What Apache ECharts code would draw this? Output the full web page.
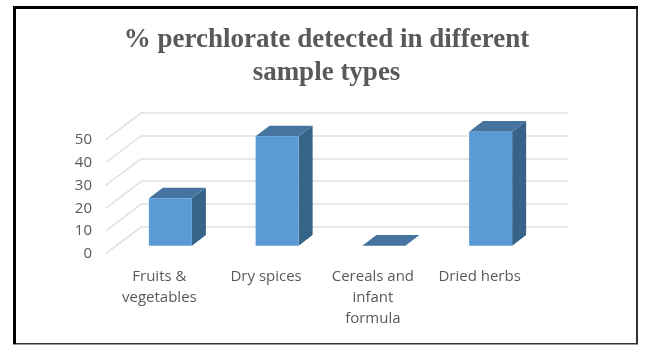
<!DOCTYPE html>
<html>
<head>
<meta charset="utf-8">
<style>
  html, body { margin: 0; padding: 0; background: #fff; }
  #chart { width: 650px; height: 358px; }
</style>
<script src="https://cdn.jsdelivr.net/npm/echarts@6/dist/echarts.min.js"></script>
</head>
<body>
<div id="chart"></div>
<script>
var categories = ['Fruits &\nvegetables', 'Dry spices', 'Cereals and\ninfant\nformula', 'Dried herbs']
var values = [20.8, 48, 0, 50]
var gridTicks = [0, 10, 20, 30, 40, 50]

// the fake 3d: how far the wall, and the bars, sit from the back plane
var wallDx = -36, wallDy = 27
var barDx = -24.7, barDy = 19
var depthDx = 14, depthDy = -10.6
var barRatio = 0.403

function poly(points, color) {
  return { type: 'polygon', shape: { points: points }, style: { fill: color } }
}

function renderBar(params, api) {
  var p = api.coord([api.value(0), api.value(1)])
  var base = api.coord([api.value(0), 0])
  var w = api.size([1, 0])[0] * barRatio
  var x0 = p[0] + barDx - w / 2
  var x1 = x0 + w
  var yTop = p[1] + barDy
  var yBase = base[1] + barDy
  return {
    type: 'group',
    children: [
      poly([[x1, yTop], [x1 + depthDx, yTop + depthDy], [x1 + depthDx, yBase + depthDy], [x1, yBase]], '#376389'),
      poly([[x0, yTop], [x0 + depthDx, yTop + depthDy], [x1 + depthDx, yTop + depthDy], [x1, yTop]], '#44749f'),
      { type: 'rect', shape: { x: x0, y: yTop, width: w, height: yBase - yTop }, style: { fill: '#5b9bd5' } }
    ]
  }
}

function renderWallLine(params, api) {
  var p = api.coord([0, api.value(0)])
  var x = p[0] - api.size([1, 0])[0] / 2
  return {
    type: 'line',
    shape: { x1: x, y1: p[1], x2: x + wallDx, y2: p[1] + wallDy },
    style: { stroke: '#e0e0e0', lineWidth: 1.5 }
  }
}

function borderRect(x, y, w, h, color) {
  return { type: 'rect', shape: { x: x, y: y, width: w, height: h }, style: { fill: color } }
}

var chart = echarts.init(document.getElementById('chart'))
chart.setOption({
  animation: false,
  title: {
    text: '% perchlorate detected in different\nsample types',
    left: 321.5,
    top: 19,
    textAlign: 'center',
    textStyle: {
      fontFamily: 'Liberation Serif',
      fontWeight: 'bold',
      fontSize: 27,
      lineHeight: 33,
      color: '#595959'
    }
  },
  graphic: [
    borderRect(636, 6, 2, 338, '#333'),
    borderRect(13, 343, 625, 1.5, '#333'),
    borderRect(13, 6, 625, 3, '#000'),
    borderRect(13, 6, 3, 338, '#000')
  ],
  grid: [
    // back wall
    { left: 141.7, width: 427, top: 112.7, height: 114 },
    // front edge, only carries the labels
    { left: 106, width: 427, top: 140, height: 114 }
  ],
  xAxis: [
    { type: 'category', gridIndex: 0, data: categories, axisLine: { show: false }, axisTick: { show: false }, axisLabel: { show: false } },
    {
      type: 'category',
      gridIndex: 1,
      data: categories,
      axisLine: { show: false },
      axisTick: { show: false },
      axisLabel: { color: '#595959', fontFamily: 'Open Sans', fontSize: 15, lineHeight: 21, margin: 12, interval: 0 }
    }
  ],
  yAxis: [
    {
      type: 'value',
      gridIndex: 0,
      min: 0,
      max: 50,
      interval: 10,
      axisLine: { show: false },
      axisTick: { show: false },
      axisLabel: { show: false },
      splitLine: { lineStyle: { color: '#e0e0e0', width: 1.5 } }
    },
    {
      type: 'value',
      gridIndex: 1,
      min: 0,
      max: 50,
      interval: 10,
      axisLine: { show: false },
      axisTick: { show: false },
      splitLine: { show: false },
      axisLabel: { color: '#595959', fontFamily: 'Open Sans', fontSize: 15, margin: 14 }
    }
  ],
  series: [
    {
      type: 'custom',
      xAxisIndex: 0,
      yAxisIndex: 0,
      renderItem: renderWallLine,
      encode: { y: 0 },
      data: gridTicks.map(function (t) { return [t] }),
      silent: true,
      z: 1
    },
    {
      type: 'custom',
      xAxisIndex: 0,
      yAxisIndex: 0,
      renderItem: renderBar,
      encode: { x: 0, y: 1 },
      data: values.map(function (v, i) { return [i, v] }),
      z: 2
    }
  ]
})
</script>
</body>
</html>
